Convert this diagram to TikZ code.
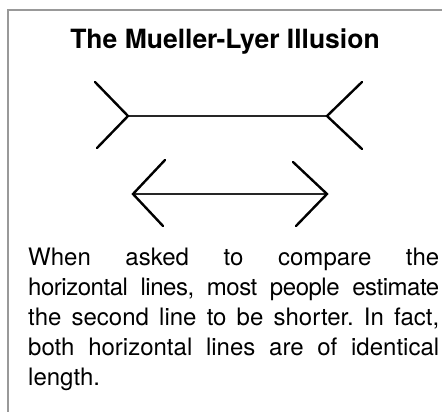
\documentclass[tikz,border=0pt]{standalone}
\usepackage{fontspec}
\setmainfont{TeX Gyre Heros}
\usetikzlibrary{positioning}

\newcommand\tightspaces{\frenchspacing\spaceskip=0.15em plus 2em minus 0.1em\relax}

\begin{document}
\begin{tikzpicture}[
  x=1pt, y=-1pt,
  frame/.style={draw=gray!80, line width=2pt},
  fin/.style={draw=black, line width=2.4pt, line cap=round, line join=miter},
  shaft/.style={draw=black!85, line width=2pt},
  heading/.style={font=\fontsize{26.5}{30}\selectfont\bfseries, inner sep=0pt},
  caption/.style={font=\fontsize{24}{30}\selectfont, text width=411pt,
    align=justify, inner sep=0pt},
]
\useasboundingbox (0,0) rectangle (442,412);

% box, cut off at right and bottom
\draw[frame] (8,412) -- (8,10) -- (442,10);

\node[heading] (title) at (225,42) {The Mueller-Lyer Illusion};

% upper figure: fins pointing out
\coordinate (ul) at (128,116);
\coordinate (ur) at (327,116);
\draw[shaft] (ul) -- (ur);
\draw[fin] (95,82) -- (ul) -- (97,148);
\draw[fin] (362,82) -- (ur) -- (362,149);

% lower figure: fins pointing in
\coordinate (ll) at (133,194);
\coordinate (lr) at (327,194);
\draw[shaft] (ll) -- (lr);
\draw[fin] (165,160) -- (ll) -- (163,226);
\draw[fin] (293,162) -- (lr) -- (296,226);

\node[caption, anchor=north west] (text) at (28,248)
  {\tightspaces When asked to compare the\linebreak
   {\addfontfeature{LetterSpace=-2}horizontal lines, most people estimate}\linebreak
   the second line to be shorter. In fact,\linebreak
   both horizontal lines are of identical\linebreak
   length.};
\end{tikzpicture}
\end{document}
